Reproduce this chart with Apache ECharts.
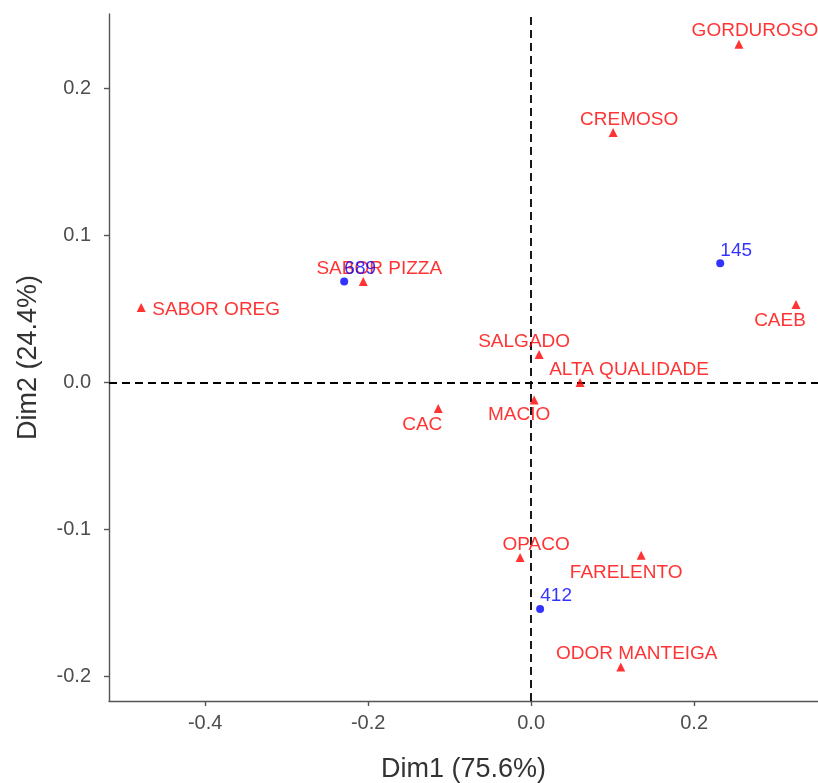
<!DOCTYPE html>
<html>
<head>
<meta charset="utf-8">
<script src="https://cdn.jsdelivr.net/npm/echarts@6/dist/echarts.min.js"></script>
<style>
html,body{margin:0;padding:0;background:#fff;}
#chart{width:818px;height:783px;}
</style>
</head>
<body>
<div id="chart"></div>
<script>
// ---- data ----
const rowNames = ["GORDUROSO","CREMOSO","SABOR PIZZA","SABOR OREG","CAEB","SALGADO","ALTA QUALIDADE","MACIO","CAC","OPACO","FARELENTO","ODOR MANTEIGA"];
const rowDim1  = [0.255, 0.1006, -0.206, -0.4785, 0.325, 0.0098, 0.060, 0.0037, -0.114, -0.0135, 0.135, 0.110];
const rowDim2  = [0.230, 0.170, 0.0686, 0.051, 0.053, 0.019, 0.000, -0.012, -0.0177, -0.119, -0.1175, -0.1935];
const colNames = ["689","145","412"];
const colDim1  = [-0.2294, 0.232, 0.011];
const colDim2  = [0.0686, 0.081, -0.154];
const xTicks = [-0.4, -0.2, 0.0, 0.2];
const yTicks = [-0.2, -0.1, 0.0, 0.1, 0.2];
const xTitle = "Dim1 (75.6%)";
const yTitle = "Dim2 (24.4%)";

// ---- label placement (style only, pixel offsets from the marker) ----
const labelOffsets = {
  "SABOR OREG": [75, 2],
  "CAEB": [-16, 16],
  "SALGADO": [-15, -13],
  "ALTA QUALIDADE": [49, -13],
  "MACIO": [-15, 15],
  "CAC": [-16, 16],
  "FARELENTO": [-15, 18]
};
const defaultOffset = [16, -13];

function items(names, xs, ys) {
  return names.map((n, i) => ({
    name: n,
    value: [xs[i], ys[i]],
    label: { offset: labelOffsets[n] || defaultOffset }
  }));
}

const FONT = "'Liberation Sans', Arial, sans-serif";
const chart = echarts.init(document.getElementById('chart'), null, { renderer: 'canvas' });

const labelBase = (color) => ({
  show: true,
  position: 'inside',
  formatter: '{b}',
  color: color,
  fontFamily: FONT,
  fontSize: 19,
  align: 'center',
  verticalAlign: 'middle'
});

chart.setOption({
  animation: false,
  backgroundColor: '#ffffff',
  grid: { left: 109, right: 0, top: 14, bottom: 82, containLabel: false, outerBoundsMode: 'none' },
  xAxis: {
    type: 'value',
    min: -0.518, max: 0.352,
    name: xTitle, nameLocation: 'middle', nameGap: 55,
    nameTextStyle: { fontFamily: FONT, fontSize: 27, color: '#333333' },
    axisLine: { show: true, onZero: false, lineStyle: { color: '#555555', width: 1.4 } },
    axisTick: { show: true, length: 5, customValues: xTicks, lineStyle: { color: '#555555', width: 1.4 } },
    axisLabel: { customValues: xTicks, margin: 12, color: '#4d4d4d', fontFamily: FONT, fontSize: 20,
      formatter: v => v.toFixed(1) },
    splitLine: { show: false }
  },
  yAxis: {
    type: 'value',
    min: -0.2166, max: 0.2505,
    name: yTitle, nameLocation: 'middle', nameGap: 67,
    nameTextStyle: { fontFamily: FONT, fontSize: 27, color: '#333333' },
    axisLine: { show: true, onZero: false, lineStyle: { color: '#555555', width: 1.4 } },
    axisTick: { show: true, length: 5, customValues: yTicks, lineStyle: { color: '#555555', width: 1.4 } },
    axisLabel: { customValues: yTicks, margin: 18, color: '#4d4d4d', fontFamily: FONT, fontSize: 20,
      formatter: v => v.toFixed(1) },
    splitLine: { show: false }
  },
  series: [
    {
      name: 'rows',
      type: 'scatter',
      symbol: 'triangle',
      symbolSize: 9,
      itemStyle: { color: '#ff0000' },
      label: labelBase('#ff0000'),
      data: items(rowNames, rowDim1, rowDim2),
      markLine: {
        silent: true,
        symbol: ['none', 'none'],
        label: { show: false },
        lineStyle: { color: '#000000', type: [8, 5], width: 1.8 },
        data: [{ xAxis: 0 }, { yAxis: 0 }],
        z: 1
      }
    },
    {
      name: 'cols',
      type: 'scatter',
      symbol: 'circle',
      symbolSize: 8,
      itemStyle: { color: '#0000ff' },
      label: labelBase('#0000ff'),
      data: items(colNames, colDim1, colDim2)
    }
  ]
});
</script>
</body>
</html>
